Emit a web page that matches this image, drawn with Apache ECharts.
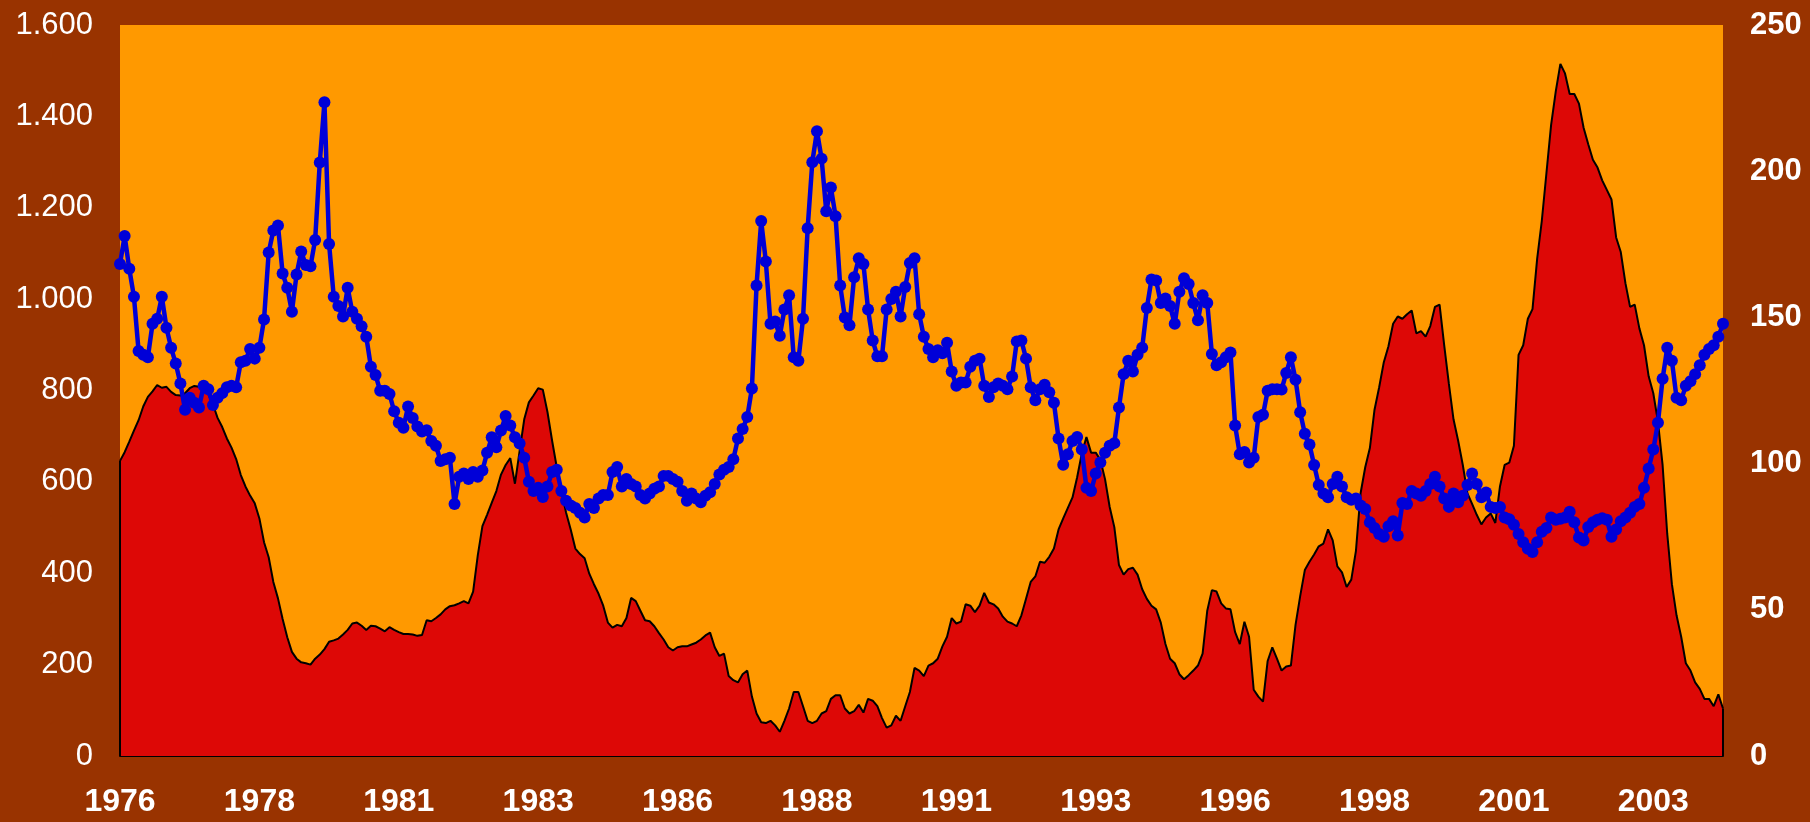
<!DOCTYPE html>
<html>
<head>
<meta charset="utf-8">
<script src="https://cdn.jsdelivr.net/npm/echarts@6/dist/echarts.min.js"></script>
<style>
  html, body { margin: 0; padding: 0; background: #993300; }
  #chart { width: 1810px; height: 822px; }
</style>
</head>
<body>
<div id="chart"></div>
<script>
// Monthly series, Jan 1976 .. Oct 2004
const startYear = 1976;
const startMonth = 1;

// Red area (left axis, 0 - 1.600)
const redValues = [
646,665,688,712,735,765,786,798,812,806,808,797,790,789,794,805,810,808,813,792,
770,740,720,695,675,650,615,590,570,553,520,468,435,381,345,300,260,228,213,205,
203,200,213,222,234,250,253,257,266,276,290,292,285,276,285,284,279,273,282,276,
271,267,267,266,263,265,297,295,302,310,321,328,330,334,339,334,360,439,503,528,
554,580,616,637,652,596,667,737,774,789,805,802,753,690,632,580,533,496,454,442,
433,399,376,355,329,292,281,287,284,302,346,339,318,297,295,284,269,255,238,231,
238,240,240,244,248,255,264,270,238,219,224,175,166,161,179,187,130,93,74,72,
77,67,53,77,104,140,140,109,77,72,77,93,98,125,133,133,104,93,98,112,
95,125,121,109,83,62,67,88,77,109,140,193,187,175,198,203,213,240,261,302,
290,294,332,329,315,329,357,336,332,323,305,294,290,284,308,344,381,393,425,423,
436,454,496,520,543,566,610,662,698,664,664,648,606,545,501,418,397,409,412,397,
365,344,329,321,292,245,213,203,179,168,177,187,198,224,318,363,360,334,323,321,
271,245,294,261,145,130,119,208,238,213,187,196,198,287,350,407,425,441,459,465,
496,472,415,402,370,386,449,575,632,674,758,807,862,897,946,962,957,967,975,925,
930,918,941,983,988,899,815,737,690,637,575,552,528,507,522,531,510,590,637,642,
679,878,899,957,978,1088,1171,1276,1381,1454,1515,1494,1449,1449,1428,1375,1339,1305,1288,1260,
1239,1218,1135,1103,1035,983,988,936,899,831,794,732,637,486,376,308,261,203,187,161,
147,125,125,109,135,104
];

// Blue line with markers (right axis, 0 - 250)
const blueValues = [
168.3,177.8,166.6,157.1,138.5,137.2,136.4,147.8,149.5,157.1,146.5,139.6,134.2,127.4,118.4,122.5,120.8,119.2,126.6,125.4,
120.0,122.5,124.1,126.1,126.6,126.1,134.7,135.2,139.2,135.9,139.6,149.3,172.2,179.7,181.4,165.0,160.1,151.9,164.7,172.5,
167.9,167.5,176.5,203.0,223.6,175.1,157.1,153.9,150.3,160.1,151.9,149.5,147.0,143.4,133.1,130.3,124.9,124.9,123.8,117.9,
114.0,112.3,119.5,115.6,112.7,111.0,111.4,107.7,106.1,100.9,101.5,102.0,86.2,95.5,96.6,94.7,97.1,95.5,97.6,103.7,
109.0,105.6,111.3,116.3,113.0,109.0,106.9,102.0,93.8,90.6,91.7,88.6,92.2,97.1,97.9,90.6,87.3,85.7,84.8,83.2,
81.6,86.2,84.8,88.1,89.3,89.3,97.1,98.8,92.2,94.7,93.0,92.2,89.3,88.1,89.8,91.4,92.2,95.8,95.8,94.7,
93.8,90.6,87.3,89.8,88.1,86.8,89.0,90.2,93.0,96.3,97.9,98.8,101.5,108.6,111.8,115.9,125.7,160.9,183.0,169.1,
147.8,148.6,143.7,152.7,157.6,136.4,135.2,149.5,180.5,203.1,213.7,204.3,186.3,194.4,184.6,160.9,150.0,147.3,163.7,170.2,
168.3,152.7,142.1,136.7,136.7,152.7,156.3,158.8,150.3,160.4,168.6,170.2,151.1,143.4,139.2,136.4,138.8,137.7,141.3,131.5,
126.6,127.7,127.7,133.1,135.2,135.9,126.6,122.8,126.1,127.4,126.6,125.4,129.8,141.8,142.1,135.9,126.1,121.7,125.4,127.0,
124.4,120.8,108.6,99.6,103.2,107.7,109.1,104.8,91.7,90.6,96.6,100.4,103.7,106.1,107.0,119.2,130.6,135.2,131.5,137.2,
139.6,153.2,163.0,162.6,154.9,156.5,153.9,147.8,158.8,163.4,161.4,154.9,149.0,157.6,154.9,137.5,133.6,134.7,136.4,138.0,
113.0,103.2,104.0,100.4,102.0,115.9,116.7,124.9,125.4,125.4,125.3,131.0,136.4,128.7,117.6,110.2,106.5,99.5,92.7,89.8,
88.5,93.0,95.5,92.2,88.5,87.6,88.1,85.7,84.5,79.9,78.0,75.9,75.0,78.6,80.3,75.4,86.5,86.2,90.6,89.8,
89.0,90.6,93.0,95.5,92.2,88.1,85.2,89.8,86.8,89.0,92.7,96.6,93.0,88.5,90.1,85.2,84.8,85.2,81.6,81.0,
79.1,75.9,73.1,70.9,69.8,73.1,76.7,78.0,81.6,80.8,81.1,81.6,83.5,79.9,74.7,73.7,78.3,79.9,80.8,81.3,
80.8,75.0,77.5,80.3,81.6,83.2,85.2,86.2,91.7,98.3,104.8,114.0,129.0,139.6,135.2,122.5,121.7,126.6,128.2,130.6,
133.6,137.2,139.2,140.5,143.4,147.8
];

// Category labels: one per month
const categories = [];
for (let k = 0; k < redValues.length; k++) {
  const m0 = startMonth - 1 + k;
  const y = startYear + Math.floor(m0 / 12);
  const m = (m0 % 12) + 1;
  categories.push(y + '-' + (m < 10 ? '0' + m : m));
}

const leftTicks = { min: 0, max: 1600, interval: 200 };
const rightTicks = { min: 0, max: 250, interval: 50 };

function dotThousands(v) {
  return String(v).replace(/\B(?=(\d{3})+(?!\d))/g, '.');
}

const lastIdx = redValues.length - 1;

const chart = echarts.init(document.getElementById('chart'), null, { renderer: 'canvas' });
chart.setOption({
  animation: false,
  backgroundColor: '#993300',
  textStyle: { fontFamily: 'Liberation Sans, Arial, sans-serif' },
  grid: {
    left: 120, right: 87, top: 25, bottom: 66,
    show: true, backgroundColor: '#FF9900', borderWidth: 0
  },
  xAxis: {
    type: 'category',
    data: categories,
    boundaryGap: false,
    axisLine: { show: true, lineStyle: { color: '#000000', width: 2 } },
    axisTick: { show: false },
    splitLine: { show: false },
    axisLabel: {
      interval: 29,
      color: '#FFFFFF',
      fontSize: 32,
      fontWeight: 'bold',
      fontFamily: 'Liberation Sans, Arial, sans-serif',
      margin: 30,
      formatter: function (v) { return v.slice(0, 4); }
    }
  },
  yAxis: [
    {
      type: 'value',
      min: leftTicks.min, max: leftTicks.max, interval: leftTicks.interval,
      axisLine: { show: false },
      axisTick: { show: false },
      splitLine: { show: false },
      axisLabel: {
        color: '#FFFFFF',
        fontSize: 31,
        fontFamily: 'Liberation Sans, Arial, sans-serif',
        margin: 27,
        formatter: dotThousands
      }
    },
    {
      type: 'value',
      position: 'right',
      min: rightTicks.min, max: rightTicks.max, interval: rightTicks.interval,
      axisLine: { show: false },
      axisTick: { show: false },
      splitLine: { show: false },
      axisLabel: {
        color: '#FFFFFF',
        fontSize: 31,
        fontWeight: 'bold',
        fontFamily: 'Liberation Sans, Arial, sans-serif',
        margin: 27
      }
    }
  ],
  series: [
    {
      type: 'line',
      yAxisIndex: 0,
      data: redValues,
      symbol: 'none',
      lineStyle: { color: '#000000', width: 2 },
      areaStyle: { color: '#DD0806', opacity: 1 },
      z: 2,
      markLine: {
        silent: true,
        symbol: 'none',
        label: { show: false },
        lineStyle: { color: '#000000', width: 2, type: 'solid' },
        data: [
          [{ xAxis: 0, yAxis: 0 }, { xAxis: 0, yAxis: redValues[0] }],
          [{ xAxis: lastIdx, yAxis: 0 }, { xAxis: lastIdx, yAxis: redValues[lastIdx] }]
        ]
      }
    },
    {
      type: 'line',
      yAxisIndex: 1,
      data: blueValues,
      symbol: 'circle',
      symbolSize: 12,
      showAllSymbol: true,
      itemStyle: { color: '#0000D8' },
      lineStyle: { color: '#0000D8', width: 4.5 },
      z: 3
    }
  ]
});
</script>
</body>
</html>
